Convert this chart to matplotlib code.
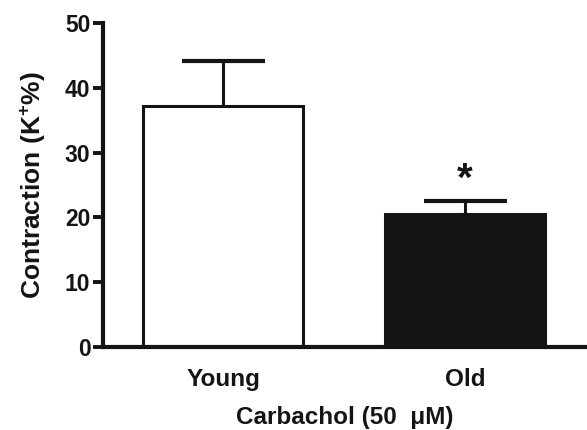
import numpy as np
import matplotlib.pyplot as plt

plt.rcParams['font.family'] = ['Liberation Sans', 'DejaVu Sans']
plt.rcParams['font.weight'] = 'bold'
plt.rcParams['mathtext.fontset'] = 'custom'
plt.rcParams['mathtext.rm'] = 'Liberation Sans:bold'
plt.rcParams['mathtext.bf'] = 'Liberation Sans:bold'
plt.rcParams['mathtext.it'] = 'Liberation Sans:bold'

groups = ['Young', 'Old']
means = [37.2, 20.6]
sems = [6.9, 1.9]
fills = ['white', '#141414']
stars = ['', '*']

ink = '#141414'

fig = plt.figure(figsize=(5.87, 4.30), dpi=100)
ax = fig.add_axes([103 / 587, 1 - 347 / 430, 484 / 587, 324 / 430])

x = np.array([0, 1.51])
means = np.array(means)
sems = np.array(sems)
tops = means + sems

# error bars (upper half only), drawn behind the bars
ax.vlines(x, means, tops, color=ink, linewidth=2.2, zorder=1)
ax.hlines(tops, x - 0.26, x + 0.26, color=ink, linewidth=3.0, zorder=1)
ax.bar(x, means, width=1.0, color=fills, edgecolor=ink, linewidth=2.2, zorder=2)

for xi, t, st in zip(x, tops, stars):
    if st:
        ax.text(xi, t + 3.3, st, ha='center', va='center', fontsize=29,
                fontweight='bold', color=ink)

ax.set_xlim(-0.75, 2.27)
ax.set_ylim(0, 50)
ax.set_yticks(np.arange(0, 51, 10))
ax.set_xticks(x)
ax.set_xticklabels(groups)

for side in ['top', 'right']:
    ax.spines[side].set_visible(False)
for side in ['left', 'bottom']:
    ax.spines[side].set_linewidth(3.0)
    ax.spines[side].set_color(ink)

ax.tick_params(axis='y', length=7, width=2.8, color=ink, labelsize=16.5, pad=2,
               labelcolor=ink)
ax.tick_params(axis='x', length=0, labelsize=17.5, pad=15, labelcolor=ink)

ax.set_ylabel(r'Contraction (K$^{+}$%)', fontsize=19, fontweight='bold',
              color=ink, labelpad=12)
ax.set_xlabel('Carbachol (50  \u03bcM)', fontsize=17.5, fontweight='bold',
              color=ink, labelpad=11)

fig.savefig('out.png', dpi=100)
